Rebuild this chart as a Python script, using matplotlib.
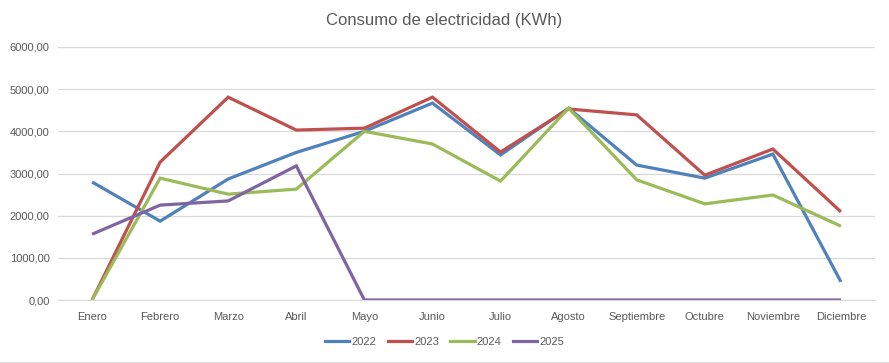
import matplotlib
matplotlib.use("Agg")
import matplotlib.pyplot as plt
from matplotlib.lines import Line2D

# --- data -------------------------------------------------------------------
meses = ["Enero", "Febrero", "Marzo", "Abril", "Mayo", "Junio", "Julio",
         "Agosto", "Septiembre", "Octubre", "Noviembre", "Diciembre"]

kwh_2022 = [2800, 1870, 2870, 3500, 4000, 4670, 3440, 4550, 3200, 2890, 3460, 430]
kwh_2023 = [0, 3270, 4810, 4030, 4075, 4810, 3510, 4530, 4390, 2960, 3580, 2090]
kwh_2024 = [0, 2890, 2510, 2630, 4000, 3700, 2820, 4550, 2850, 2280, 2490, 1750]
kwh_2025 = [1560, 2250, 2350, 3180, 0, 0, 0, 0, 0, 0, 0, 0]

series = [("2022", kwh_2022, "#4F81BD"),
          ("2023", kwh_2023, "#C0504D"),
          ("2024", kwh_2024, "#9BBB59"),
          ("2025", kwh_2025, "#8064A2")]

yticks = [0, 1000, 2000, 3000, 4000, 5000, 6000]

plt.rcParams["font.family"] = ["Liberation Sans", "DejaVu Sans"]

fig = plt.figure(figsize=(8.89, 3.63), dpi=100)
ax = fig.add_axes([58 / 889, 1 - 300 / 363, (875 - 58) / 889, (300 - 47) / 363])

x = list(range(len(meses)))
for label, vals, color in series:
    ax.plot(x, vals, color=color, lw=2.3, label=label, solid_joinstyle="miter",
            solid_capstyle="butt")

ax.set_xlim(-0.5, len(meses) - 0.5)
ax.set_ylim(0, 6000)
ax.set_yticks(yticks)
ax.set_yticklabels([f"{v:.2f}".replace(".", ",") for v in yticks])
ax.set_xticks(x)
ax.set_xticklabels(meses)
ax.grid(axis="y", color="#D9D9D9", lw=0.9)
ax.set_axisbelow(True)
for s in ["top", "right", "left"]:
    ax.spines[s].set_visible(False)
ax.spines["bottom"].set_color("#D9D9D9")
ax.tick_params(axis="both", length=0, labelsize=8, colors="#595959", pad=9)
ax.tick_params(axis="y", pad=6)

fig.text(0.5, 1 - 20 / 363, "Consumo de electricidad (KWh)", ha="center", va="center",
         fontsize=12, color="#595959")

handles = [Line2D([], [], color=c, lw=2.3) for _, _, c in series]
fig.legend(handles, [s[0] for s in series], loc="center", ncol=4,
           bbox_to_anchor=(0.5, 1 - 342 / 363), frameon=False, fontsize=8,
           handlelength=2.2, handletextpad=0.2, columnspacing=1.0,
           labelcolor="#595959")

fig.add_artist(Line2D([0, 1], [0.5 / 363, 0.5 / 363], color="#D9D9D9", lw=1.2,
                      transform=fig.transFigure))

fig.savefig("out.png", dpi=100)
